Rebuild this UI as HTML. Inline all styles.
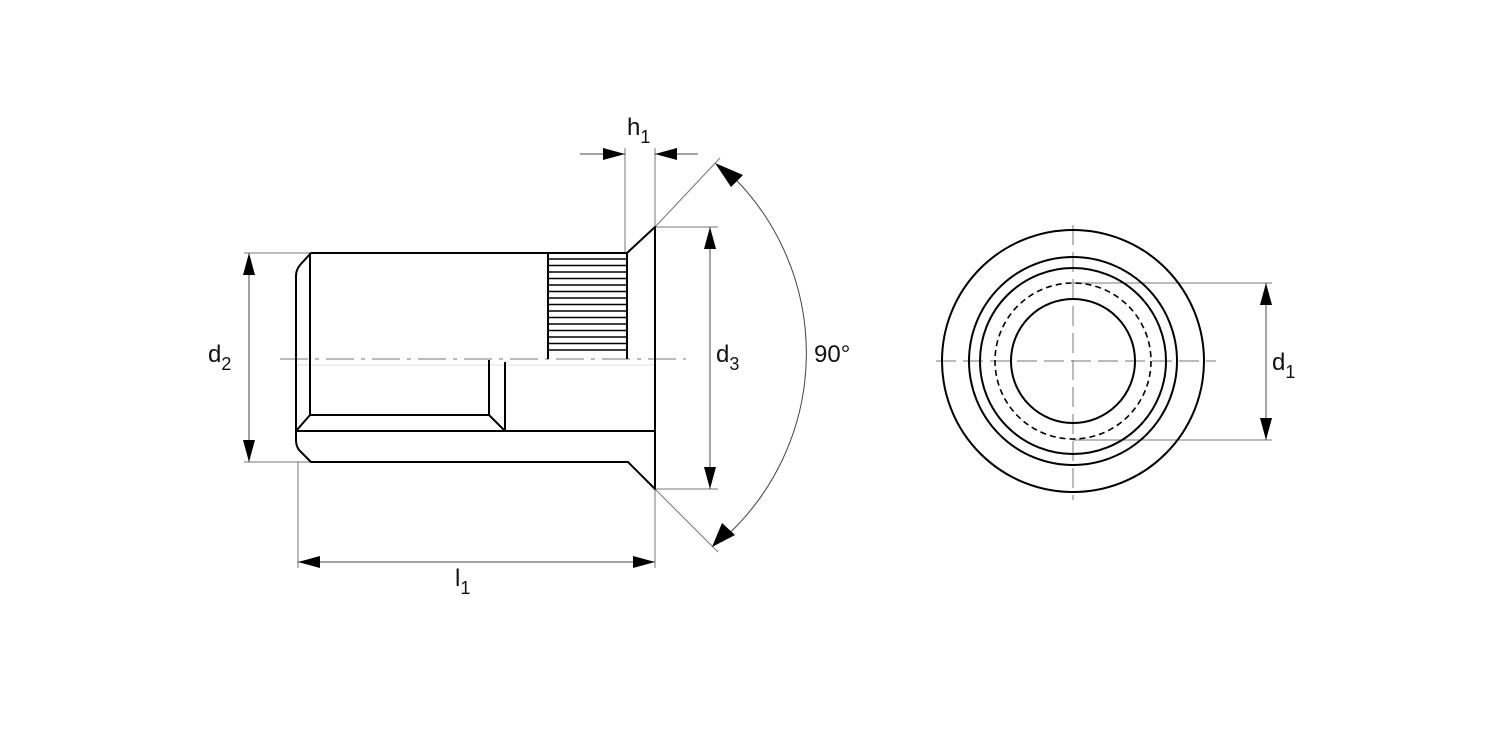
<!DOCTYPE html>
<html><head><meta charset="utf-8"><style>html,body{margin:0;padding:0;background:#fff}svg{display:block}text{font-family:"Liberation Sans",sans-serif;fill:#111}</style></head>
<body>
<svg width="1500" height="750" viewBox="0 0 1500 750" xmlns="http://www.w3.org/2000/svg">
<defs>
<marker id="a" viewBox="0 0 22 12" refX="22" refY="6" markerWidth="22" markerHeight="12" markerUnits="userSpaceOnUse" orient="auto"><path d="M0,0 L22,6 L0,12 Z" fill="#000"/></marker>
<marker id="b" viewBox="0 0 22 12" refX="0" refY="6" markerWidth="22" markerHeight="12" markerUnits="userSpaceOnUse" orient="auto"><path d="M22,0 L0,6 L22,12 Z" fill="#000"/></marker>
</defs>
<g stroke="#777" stroke-width="1" fill="none">
<line x1="244" y1="253" x2="311" y2="253"/>
<line x1="244" y1="462" x2="311" y2="462"/>
<line x1="655" y1="227" x2="718" y2="227"/>
<line x1="655" y1="489" x2="718" y2="489"/>
<line x1="625" y1="148" x2="625" y2="253"/>
<line x1="655" y1="148" x2="655" y2="227"/>
<line x1="298" y1="462" x2="298" y2="568"/>
<line x1="655" y1="489" x2="655" y2="568"/>
<line x1="655" y1="227" x2="720" y2="158"/>
<line x1="655" y1="489" x2="718" y2="552"/>
<line x1="1073" y1="283" x2="1272" y2="283"/>
<line x1="1073" y1="440" x2="1272" y2="440"/>
<line x1="297" y1="365" x2="655" y2="365" stroke="#ddd"/>
<line x1="280" y1="359" x2="686" y2="359" stroke-dasharray="28,7,4,7"/>
<line x1="936" y1="361" x2="1216" y2="361" stroke-dasharray="20,7"/>
<line x1="1073" y1="225" x2="1073" y2="500" stroke-dasharray="20,7"/>
</g>
<g stroke="#444" stroke-width="1" fill="none">
<line x1="249" y1="253" x2="249" y2="462" marker-start="url(#b)" marker-end="url(#a)"/>
<line x1="710" y1="227" x2="710" y2="489" marker-start="url(#b)" marker-end="url(#a)"/>
<line x1="298" y1="562" x2="655" y2="562" marker-start="url(#b)" marker-end="url(#a)"/>
<line x1="1266" y1="283" x2="1266" y2="440" marker-start="url(#b)" marker-end="url(#a)"/>
<line x1="580" y1="154" x2="625" y2="154" marker-end="url(#a)"/>
<line x1="698" y1="154" x2="655" y2="154" marker-end="url(#a)"/>
<path d="M726,170 A249,249 0 0 1 722,540"/>
</g>
<path d="M715,163 L743,175 L731,187 Z" fill="#000"/>
<path d="M712,547 L722,523 L735,535 Z" fill="#000"/>
<g stroke="#000" stroke-width="2" fill="none" stroke-linejoin="round">
<path d="M311,253 L627,253 L655,227 L655,489 L628,462 L311,462 L300,451 Q296,447 296,440 L296,276 Q296,270 300,265 Z"/>
<path d="M310,253 L310,415 L489,415 L505,431"/>
<line x1="296" y1="431" x2="655" y2="431"/>
<line x1="310" y1="415" x2="296" y2="431"/>
<line x1="489" y1="360" x2="489" y2="415"/>
<line x1="505" y1="362" x2="505" y2="431"/>
<line x1="548" y1="253" x2="548" y2="359"/>
<line x1="627" y1="253" x2="627" y2="359"/>
</g>
<g stroke="#000" stroke-width="1.5">
<line x1="548" y1="259" x2="627" y2="259"/><line x1="548" y1="265.5" x2="627" y2="265.5"/>
<line x1="548" y1="272" x2="627" y2="272"/><line x1="548" y1="278.5" x2="627" y2="278.5"/>
<line x1="548" y1="285" x2="627" y2="285"/><line x1="548" y1="291.5" x2="627" y2="291.5"/>
<line x1="548" y1="298" x2="627" y2="298"/><line x1="548" y1="304.5" x2="627" y2="304.5"/>
<line x1="548" y1="311" x2="627" y2="311"/><line x1="548" y1="317.5" x2="627" y2="317.5"/>
<line x1="548" y1="324" x2="627" y2="324"/><line x1="548" y1="330.5" x2="627" y2="330.5"/>
<line x1="548" y1="337" x2="627" y2="337"/><line x1="548" y1="343.5" x2="627" y2="343.5"/>
<line x1="548" y1="350" x2="627" y2="350"/>
</g>
<g stroke="#000" stroke-width="2" fill="none">
<circle cx="1073" cy="361" r="131"/>
<circle cx="1073" cy="361" r="104"/>
<circle cx="1073" cy="361" r="93"/>
<circle cx="1073" cy="361" r="78" stroke-width="1.6" stroke-dasharray="6,4"/>
<circle cx="1073" cy="361" r="62"/>
</g>
<text x="208" y="362" font-size="24">d<tspan font-size="18" dy="8">2</tspan></text>
<text x="716" y="362" font-size="24">d<tspan font-size="18" dy="8">3</tspan></text>
<text x="814" y="362" font-size="24">90°</text>
<text x="627" y="135" font-size="24">h<tspan font-size="18" dy="8">1</tspan></text>
<text x="455" y="586" font-size="24">l<tspan font-size="18" dy="8">1</tspan></text>
<text x="1272" y="370" font-size="24">d<tspan font-size="18" dy="8">1</tspan></text>
</svg>
</body></html>
